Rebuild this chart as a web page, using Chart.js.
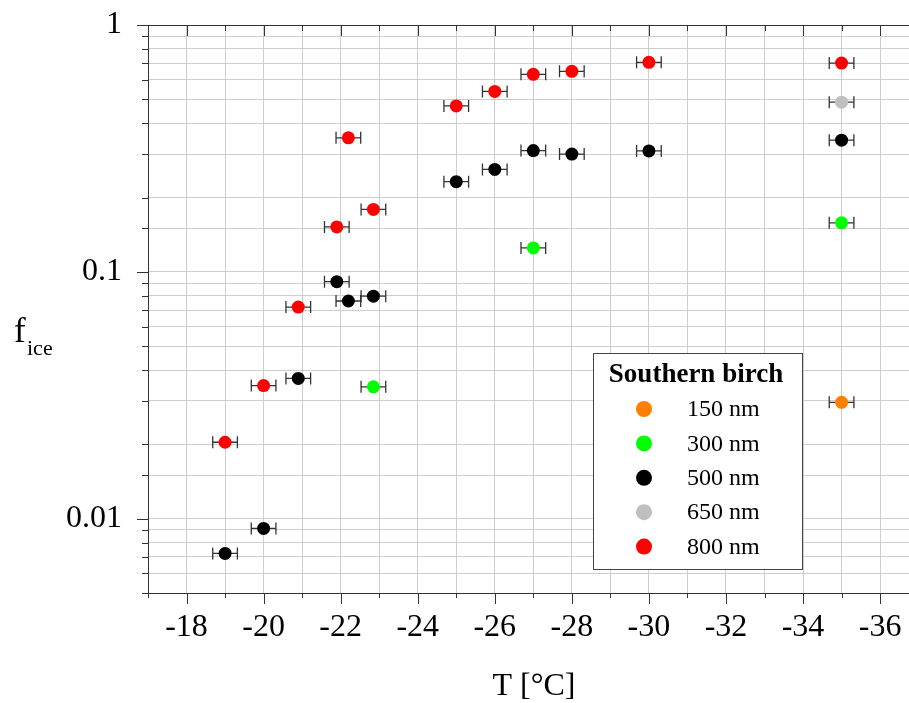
<!DOCTYPE html>
<html>
<head>
<meta charset="utf-8">
<script src="https://cdn.jsdelivr.net/npm/chart.js@4.4.1/dist/chart.umd.min.js"></script>
<style>
  body { margin: 0; background: #fff; }
</style>
</head>
<body>
<canvas id="chart" width="909" height="703"></canvas>
<script>
// particle sizes (legend labels)
const sizeLabels = ['150 nm', '300 nm', '500 nm', '650 nm', '800 nm'];

// temperatures [°C] and ice fractions per size
const temp150 = [-35];
const fice150 = [0.0296];

const temp300 = [-22.85, -27, -35];
const fice300 = [0.0342, 0.125, 0.158];

const temp500 = [-19, -20, -20.9, -21.9, -22.2, -22.85, -25, -26, -27, -28, -30, -35];
const fice500 = [0.00723, 0.00913, 0.0370, 0.0912, 0.0762, 0.0797, 0.232, 0.260, 0.310, 0.300, 0.309, 0.3415];

const temp650 = [-35];
const fice650 = [0.487];

const temp800 = [-19, -20, -20.9, -21.9, -22.2, -22.85, -25, -26, -27, -28, -30, -35];
const fice800 = [0.0204, 0.0346, 0.0720, 0.152, 0.349, 0.179, 0.470, 0.538, 0.631, 0.649, 0.706, 0.701];

// temperature uncertainty (±)
const tempErr = 0.32;

// axis ticks
const xTickValues = [-17, -18, -19, -20, -21, -22, -23, -24, -25, -26, -27, -28, -29, -30, -31, -32, -33, -34, -35, -36];
const yTickLabels = ['1', '0.1', '0.01'];

const colors = ['#ff7f00', '#00ff00', '#000000', '#bfbfbf', '#ff0000'];
const temps = [temp150, temp300, temp500, temp650, temp800];
const fices = [fice150, fice300, fice500, fice650, fice800];

const serif = "'Liberation Serif', 'Times New Roman', serif";

const datasets = sizeLabels.map((label, i) => ({
  label: label,
  data: temps[i].map((t, j) => ({ x: t, y: fices[i][j] })),
  backgroundColor: colors[i],
  borderWidth: 0,
  pointRadius: 6.5,
  pointHoverRadius: 6.5
}));

const isMajorY = v => {
  const e = Math.log10(v);
  return Math.abs(e - Math.round(e)) < 1e-6;
};

const extras = {
  id: 'extras',
  beforeDatasetsDraw(chart) {
    // horizontal error bars
    const { ctx, scales: { x, y } } = chart;
    ctx.save();
    ctx.strokeStyle = '#333';
    ctx.lineWidth = 1.3;
    temps.forEach((arr, i) => {
      arr.forEach((t, j) => {
        const py = y.getPixelForValue(fices[i][j]);
        const x1 = x.getPixelForValue(t - tempErr);
        const x2 = x.getPixelForValue(t + tempErr);
        ctx.beginPath();
        ctx.moveTo(x1, py); ctx.lineTo(x2, py);
        ctx.moveTo(x1, py - 6); ctx.lineTo(x1, py + 6);
        ctx.moveTo(x2, py - 6); ctx.lineTo(x2, py + 6);
        ctx.stroke();
      });
    });
    ctx.restore();
  },
  afterDraw(chart) {
    const { ctx, chartArea: a, scales: { x, y } } = chart;
    ctx.save();
    ctx.strokeStyle = '#333';
    ctx.lineWidth = 1;

    // top frame line
    ctx.beginPath();
    ctx.moveTo(a.left, a.top + 0.5); ctx.lineTo(a.right, a.top + 0.5);
    ctx.stroke();

    // x ticks (bottom outward, top inward)
    x.ticks.forEach(tk => {
      const px = Math.round(x.getPixelForValue(tk.value)) + 0.5;
      const major = tk.value % 2 === 0;
      ctx.beginPath();
      ctx.moveTo(px, a.bottom); ctx.lineTo(px, a.bottom + (major ? 11 : 5));
      ctx.moveTo(px, a.top); ctx.lineTo(px, a.top + (major ? 11 : 6));
      ctx.stroke();
    });

    // y ticks (left, outward)
    y.ticks.forEach(tk => {
      const py = Math.round(y.getPixelForValue(tk.value)) + 0.5;
      const len = isMajorY(tk.value) ? 11 : 6;
      ctx.beginPath();
      ctx.moveTo(a.left, py); ctx.lineTo(a.left - len, py);
      ctx.stroke();
    });

    // axis titles
    ctx.fillStyle = '#000';
    ctx.textBaseline = 'alphabetic';
    ctx.textAlign = 'center';
    ctx.font = '32px ' + serif;
    ctx.fillText('T [°C]', 534, 695);

    ctx.textAlign = 'left';
    ctx.font = '35px ' + serif;
    ctx.fillText('f', 14, 342);
    ctx.font = '22px ' + serif;
    ctx.fillText('ice', 27, 355);

    // legend box
    const lx = 593, ly = 353, lw = 209, lh = 216;
    ctx.fillStyle = '#fff';
    ctx.fillRect(lx, ly, lw, lh);
    ctx.strokeStyle = '#444';
    ctx.strokeRect(lx + 0.5, ly + 0.5, lw, lh);

    ctx.fillStyle = '#000';
    ctx.textAlign = 'center';
    ctx.textBaseline = 'middle';
    ctx.font = 'bold 27px ' + serif;
    ctx.fillText('Southern birch', 696, 375);

    ctx.textAlign = 'left';
    ctx.font = '24px ' + serif;
    chart.data.datasets.forEach((ds, i) => {
      const ry = 409 + i * 34.4;
      ctx.fillStyle = ds.backgroundColor;
      ctx.beginPath();
      ctx.arc(644, ry, 8, 0, Math.PI * 2);
      ctx.fill();
      ctx.fillStyle = '#000';
      ctx.fillText(ds.label, 687, ry + 1);
    });

    ctx.restore();
  }
};

new Chart(document.getElementById('chart'), {
  type: 'scatter',
  data: { datasets: datasets },
  options: {
    responsive: false,
    animation: false,
    devicePixelRatio: 1,
    layout: { autoPadding: false, padding: { top: 25, right: 0, bottom: 0, left: 0 } },
    plugins: {
      legend: { display: false },
      tooltip: { enabled: false }
    },
    scales: {
      x: {
        type: 'linear',
        reverse: true,
        bounds: 'data',
        min: -36.75,
        max: -17,
        afterBuildTicks: s => {
          s.ticks = xTickValues.map(v => ({ value: v }));
          s.min = -36.75;
          s.max = -17;
        },
        afterFit: s => { s.height = 110; s.paddingLeft = 0; s.paddingRight = 0; },
        grid: { color: '#cdcdcd', lineWidth: 1, drawTicks: false },
        border: { color: '#333', width: 1 },
        ticks: {
          autoSkip: false,
          maxRotation: 0,
          padding: 15,
          color: '#000',
          font: { family: serif, size: 32 },
          callback: v => (v % 2 === 0 ? String(v) : '')
        }
      },
      y: {
        type: 'logarithmic',
        min: 0.005,
        max: 1,
        afterFit: s => { s.width = 148; s.paddingTop = 0; s.paddingBottom = 0; },
        grid: { color: '#cdcdcd', lineWidth: 1, drawTicks: false },
        border: { color: '#333', width: 1 },
        ticks: {
          autoSkip: false,
          padding: 26,
          color: '#000',
          font: { family: serif, size: 32 },
          callback: v => {
            if (!isMajorY(v)) return '';
            const e = Math.round(Math.log10(v));
            return yTickLabels[-e] || '';
          }
        }
      }
    }
  },
  plugins: [extras]
});
</script>
</body>
</html>
